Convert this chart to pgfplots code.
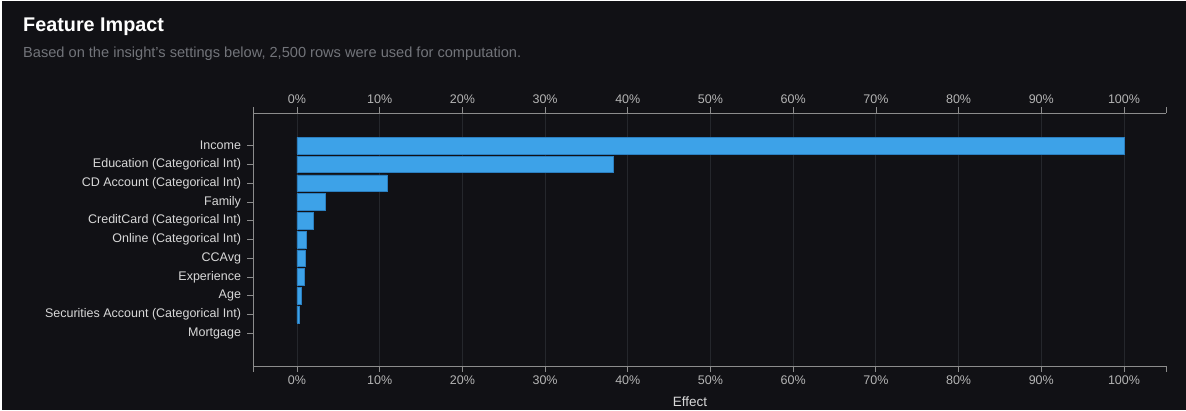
\documentclass[border=0pt]{standalone}
\usepackage{fontspec}
\setmainfont{Liberation Sans}
\usepackage{pgfplots}
\pgfplotsset{compat=1.18}
\definecolor{bg}{HTML}{111115}
\definecolor{subgrey}{HTML}{72747A}
\definecolor{axisgrey}{HTML}{8C8C8C}
\definecolor{gridcol}{HTML}{25272C}
\definecolor{labcol}{HTML}{D8D8D8}
\definecolor{xlabcol}{HTML}{B4B4B4}
\definecolor{barfill}{HTML}{3DA2E8}
\definecolor{barline}{HTML}{2B7FC0}
% Mortgage has an effect of 0% and draws no bar
\pgfplotstableread{
y val
10 100
9 38.3
8 10.9
7 3.4
6 2.0
5 1.1
4 0.95
3 0.85
2 0.55
1 0.25
}\impact
\begin{document}
\begin{tikzpicture}[x=1pt,y=1pt]
\useasboundingbox (0,0) rectangle (1186,-410);
\fill[white] (0,0) rectangle (1186,-410);
\fill[bg] (2,-1) rectangle (1186,-410);
\node[anchor=west, inner sep=0pt, font=\bfseries\fontsize{19.8}{23}\selectfont, text=white] at (23,-27) {Feature Impact};
\node[anchor=west, inner sep=0pt, font=\fontsize{14.6}{17}\selectfont, text=subgrey] at (23,-54) {Based on the insight's settings below, 2,500 rows were used for computation.};
\begin{axis}[
  at={(253pt,-366pt)}, anchor=south west,
  scale only axis, width=913pt, height=253pt,
  xmin=-5.32, xmax=105.08, ymin=-1.74, ymax=11.74,
  axis x line*=bottom, axis y line*=left,
  axis line style={-, axisgrey, line width=0.8pt},
  tick align=outside, major tick length=6pt,
  tick style={axisgrey, line width=0.8pt},
  xtick={0,10,...,100},
  xticklabel={\pgfmathprintnumber{\tick}\%},
  /pgf/number format/assume math mode=true,
  xticklabel style={font=\fontsize{12.5}{14}\selectfont, text=xlabcol},
  xmajorgrids, grid style={gridcol, line width=0.8pt},
  ytick={0,...,10},
  yticklabels={Mortgage, Securities Account (Categorical Int), Age, Experience, CCAvg, Online (Categorical Int), CreditCard (Categorical Int), Family, CD Account (Categorical Int), Education (Categorical Int), Income},
  yticklabel style={font=\fontsize{12.5}{14}\selectfont, text=labcol, xshift=-2.5pt},
  clip=false,
]
\addplot[xbar, bar width=0.89, fill=barfill, draw=barline, line width=0.6pt] table[x=val, y=y] {\impact};
\draw[axisgrey, line width=0.8pt] (rel axis cs:0,0) -- ([yshift=-6pt]rel axis cs:0,0);
\draw[axisgrey, line width=0.8pt] (rel axis cs:1,0) -- ([yshift=-6pt]rel axis cs:1,0);
\end{axis}
\begin{axis}[
  at={(253pt,-366pt)}, anchor=south west,
  scale only axis, width=913pt, height=253pt,
  xmin=-5.32, xmax=105.08, ymin=-1.74, ymax=11.74,
  axis x line*=top, axis y line=none,
  axis line style={-, axisgrey, line width=0.8pt},
  tick align=outside, major tick length=6pt,
  tick style={axisgrey, line width=0.8pt},
  xtick={0,10,...,100},
  xticklabel={\pgfmathprintnumber{\tick}\%},
  /pgf/number format/assume math mode=true,
  xticklabel style={font=\fontsize{12.5}{14}\selectfont, text=xlabcol},
  clip=false,
]
\addplot[draw=none] coordinates {(0,0)};
\draw[axisgrey, line width=0.8pt] (rel axis cs:0,1) -- ([yshift=6pt]rel axis cs:0,1);
\draw[axisgrey, line width=0.8pt] (rel axis cs:1,1) -- ([yshift=6pt]rel axis cs:1,1);
\end{axis}
\node[font=\fontsize{13.5}{16}\selectfont, text=labcol] at (690,-402) {Effect};
\end{tikzpicture}
\end{document}
